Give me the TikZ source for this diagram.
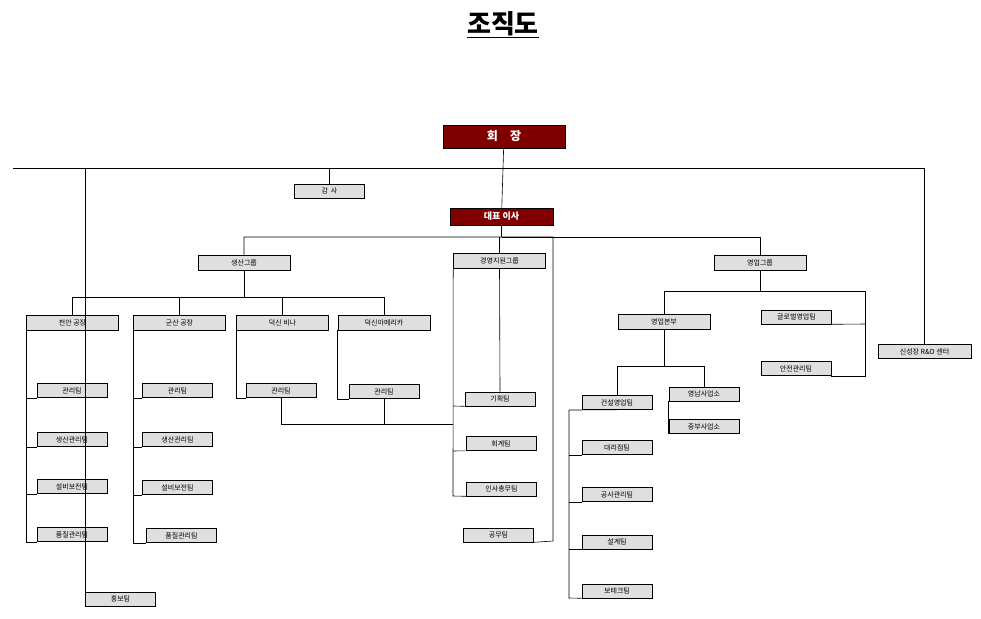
\documentclass[tikz,border=0pt]{standalone}
\usepackage{fontspec}
\setmainfont{Noto Sans CJK KR}
\usetikzlibrary{shadows}

\begin{document}
\begin{tikzpicture}[x=1pt, y=-1pt,
  teambox/.style={rectangle, draw=black, fill=gray!25, line width=0.6pt,
    inner sep=0pt, minimum height=14pt, minimum width=70pt, font=\fontsize{7}{8}\selectfont,
    drop shadow={shadow xshift=0.8pt, shadow yshift=-0.8pt, fill=black, opacity=1}},
  groupbox/.style={teambox, minimum width=92pt, minimum height=15pt},
  headbox/.style={rectangle, draw=black, fill=red!50!black, text=white, inner sep=0pt,
    font=\bfseries, line width=0.6pt},
  every path/.style={line width=0.6pt},
  ]
\useasboundingbox (0,0) rectangle (981,618);

\node[font=\fontsize{26}{28}\selectfont\bfseries] (title) at (503,25) {\underline{조직도}};

\node[headbox, minimum width=122pt, minimum height=23pt, font=\fontsize{12}{14}\selectfont\bfseries] (ceo) at (504,136.5) {회\quad 장};
\node[teambox] (audit) at (329.5,191) {감\, 사};
\node[headbox, minimum width=103pt, minimum height=17pt, font=\fontsize{9}{10}\selectfont\bfseries] (pres) at (501.5,216.5) {대표 이사};

\node[groupbox] (prod) at (244,262.5) {생산그룹};
\node[groupbox] (mgmt) at (499.5,261) {경영지원그룹};
\node[groupbox] (sales) at (760,262.5) {영업그룹};
\node[teambox, minimum width=93pt] (rnd) at (924.5,351.5) {신성장 R\&D 센터};
\node[teambox] (pr) at (120.5,599) {홍보팀};

% 생산그룹
\node[groupbox] (cheonan) at (72.5,322.5) {천안 공장};
\node[groupbox] (gunsan) at (179.5,322.5) {군산 공장};
\node[groupbox] (vina) at (282.5,322.5) {덕신 비나};
\node[groupbox] (america) at (384,322.5) {덕신아메리카};

\node[teambox] (c1) at (72,390.5) {관리팀};
\node[teambox] (c2) at (72,439.5) {생산관리팀};
\node[teambox] (c3) at (72,486.5) {설비보전팀};
\node[teambox] (c4) at (72,534.5) {품질관리팀};
\node[teambox] (g1) at (177.5,390.5) {관리팀};
\node[teambox] (g2) at (177.5,439.5) {생산관리팀};
\node[teambox] (g3) at (177.5,487.5) {설비보전팀};
\node[teambox] (g4) at (181.5,535.5) {품질관리팀};
\node[teambox] (v1) at (281,390.5) {관리팀};
\node[teambox] (a1) at (384,391.5) {관리팀};

% 경영지원그룹
\node[teambox] (m1) at (500,399) {기획팀};
\node[teambox] (m2) at (501,443.5) {회계팀};
\node[teambox] (m3) at (501.5,489) {인사총무팀};
\node[teambox] (m4) at (498.5,535) {공무팀};

% 영업그룹
\node[groupbox] (hq) at (664,321.5) {영업본부};
\node[teambox] (glob) at (796.5,317) {글로벌영업팀};
\node[teambox] (safe) at (796,368.5) {안전관리팀};
\node[teambox] (s1) at (617,402.5) {건설영업팀};
\node[teambox] (s2) at (617,447.5) {대리점팀};
\node[teambox] (s3) at (617,494.5) {공사관리팀};
\node[teambox] (s4) at (617,542) {설계팀};
\node[teambox] (s5) at (617,591) {보테크팀};
\node[teambox] (yn) at (704,394) {영남사업소};
\node[teambox] (jb) at (704,426.5) {중부사업소};

% top level lines
\draw (ceo) -- (pres);
\draw (13,168) -| (pr.south west);
\draw (13,168) -| (rnd);
\draw (audit.north) -- (audit.north |- 0,168);
\draw (pres.south) -- (501.5,237);
\draw (prod.north) |- (553,237) -- (553,541) -- (m4.south east);
\draw (501.5,237) -| (sales.north);
\draw (mgmt.north) -- (mgmt.north |- 0,237);

% 생산그룹 lines
\draw (prod.south) -- (244,297);
\draw (cheonan.north) |- (america.north |- 0,297) -- (america.north);
\draw (gunsan.north) -- (gunsan.north |- 0,297);
\draw (vina.north) -- (vina.north |- 0,297);
\foreach \b/\t in {cheonan/c, gunsan/g} {
  \draw (\b.south west) -- (\b.south west |- \t4.south west) -- (\t4.south west);
  \foreach \i in {1,2,3}
    \draw (\b.south west |- \t\i.south west) -- (\t\i.south west);
}
\draw (vina.south west) |- (v1.south west);
\draw (america.south west) |- (a1.south west);
\draw (v1.south) |- (453,424);
\draw (a1.south) -- (a1.south |- 0,424);

% 경영지원그룹 lines
\draw (mgmt.south) -- (m1.north);
\draw (mgmt.south west) -- (453,496) -- (m3.south west);
\draw (453,406) -- (m1.south west);
\draw (453,451) -- (m2.south west);

% 영업그룹 lines
\draw (sales.south) -- (760,291);
\draw (hq.north) |- (865,291) |- (safe.south east);
\draw (865,324) -- (glob.south east);
\draw (hq.south) -- (664,366);
\draw (s1.north) |- (yn.north |- 0,366) -- (yn.north);
\draw (yn.south west) |- (jb.south west);
\draw (569,410) -- (569,598) -- (s5.south west);
\draw (569,410) -- (s1.south);
\foreach \i in {2,3,4}
  \draw (569,0 |- s\i.south west) -- (s\i.south west);

\end{tikzpicture}
\end{document}
